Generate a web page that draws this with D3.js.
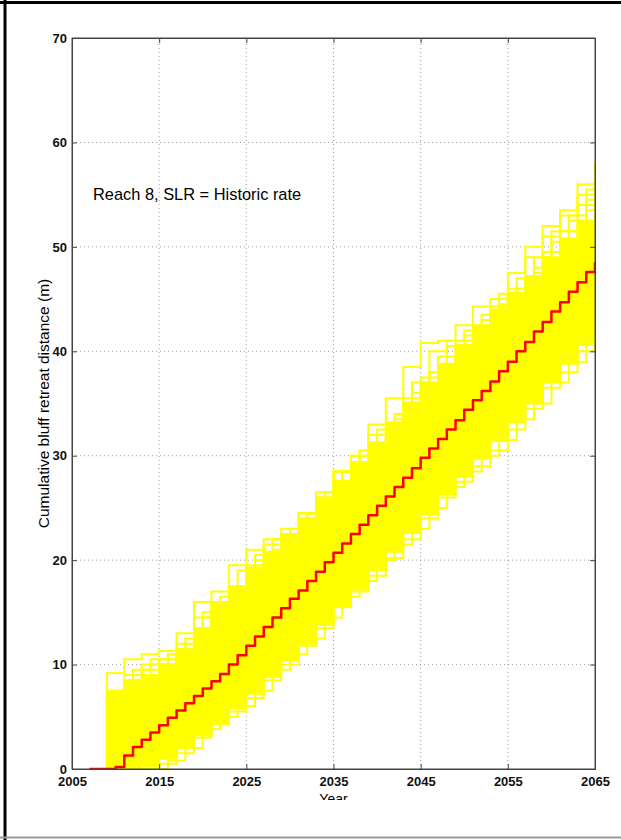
<!DOCTYPE html>
<html>
<head>
<meta charset="utf-8">
<script src="https://cdn.jsdelivr.net/npm/d3@7"></script>
<style>
  body { margin: 0; background: #fff; }
  text { font-family: "Liberation Sans", Arial, sans-serif; }
</style>
</head>
<body>
<div id="chart"></div>
<script>
// yearly mean retreat (red line)
const years = [2007, 2008, 2009, 2010, 2011, 2012, 2013, 2014, 2015, 2016, 2017, 2018, 2019, 2020,
  2021, 2022, 2023, 2024, 2025, 2026, 2027, 2028, 2029, 2030, 2031, 2032, 2033, 2034, 2035, 2036,
  2037, 2038, 2039, 2040, 2041, 2042, 2043, 2044, 2045, 2046, 2047, 2048, 2049, 2050, 2051, 2052,
  2053, 2054, 2055, 2056, 2057, 2058, 2059, 2060, 2061, 2062, 2063, 2064, 2065];
const meanRetreat = [0, 0, 0, 0.2, 1.3, 2.1, 2.8, 3.5, 4.2, 4.9, 5.6, 6.3, 7.0, 7.7,
  8.4, 9.1, 10.0, 10.9, 11.8, 12.7, 13.6, 14.5, 15.4, 16.3, 17.1, 18.0, 18.9, 19.8, 20.7, 21.6,
  22.5, 23.4, 24.3, 25.2, 26.1, 27.0, 27.9, 28.8, 29.8, 30.7, 31.6, 32.5, 33.4, 34.4, 35.3, 36.2,
  37.1, 38.1, 39.0, 40.0, 40.9, 41.9, 42.8, 43.8, 44.7, 45.7, 46.6, 47.6, 48.5];

// Monte Carlo realizations (yellow), read every 2 years on two offset grids
const stepYears = [2007, 2009, 2011, 2013, 2015, 2017, 2019, 2021, 2023, 2025, 2027, 2029, 2031, 2033, 2035,
  2037, 2039, 2041, 2043, 2045, 2047, 2049, 2051, 2053, 2055, 2057, 2059, 2061, 2063, 2065];
const stepYearsB = [2008, 2010, 2012, 2014, 2016, 2018, 2020, 2022, 2024, 2026, 2028, 2030, 2032, 2034, 2036,
  2038, 2040, 2042, 2044, 2046, 2048, 2050, 2052, 2054, 2056, 2058, 2060, 2062, 2064, 2066];
const coreUpper = [0, 7.5, 8.5, 9.0, 10.0, 11.5, 13.5, 16.0, 17.5, 19.3, 20.8, 22.4, 24.0, 25.8, 27.6,
  29.4, 31.3, 33.2, 35.1, 37.0, 38.8, 40.6, 42.4, 44.0, 45.6, 47.2, 49.0, 50.8, 52.5, 54.0];
const coreLower = [0, 0, 0, 0.3, 1.0, 2.0, 3.2, 4.5, 5.8, 7.2, 8.8, 10.4, 12.0, 13.8, 15.6,
  17.2, 19.0, 20.8, 22.6, 24.4, 26.3, 28.0, 29.7, 31.4, 33.2, 35.0, 37.0, 38.8, 40.6, 42.3];
const runs = [
  [0, 9.2, 10.5, 11.0, 11.3, 13.0, 16.0, 17.0, 19.5, 21.0, 22.0, 23.0, 24.5, 26.5, 28.5,
   28.0, 29.5, 31.0, 33.0, 35.0, 37.5, 39.5, 41.0, 43.0, 45.0, 46.5, 48.5, 50.5, 52.5, 54.5],
  [0, 0, 8.5, 9.5, 10.5, 11.5, 13.5, 15.5, 17.0, 19.0, 21.5, 22.5, 24.5, 26.0, 28.5,
   30.0, 33.0, 35.5, 38.5, 40.8, 41.0, 42.5, 44.3, 45.0, 47.5, 49.0, 51.0, 53.0, 55.0, 56.5],
  [0, 7.5, 9.0, 10.0, 10.5, 12.0, 14.5, 16.0, 17.5, 19.5, 21.5, 22.5, 24.5, 26.0, 28.5,
   30.0, 32.0, 33.0, 35.5, 37.5, 39.5, 41.0, 42.5, 44.3, 46.0, 50.0, 52.0, 53.5, 56.0, 58.0],
  [0, 0, 6.0, 8.0, 9.5, 11.0, 12.5, 14.5, 16.0, 18.0, 20.0, 21.0, 22.5, 24.0, 26.0,
   27.5, 29.5, 32.0, 34.0, 36.0, 38.0, 39.5, 41.5, 43.5, 45.0, 47.0, 49.5, 51.5, 54.0, 55.5],
  [0, 5.0, 8.0, 9.0, 10.0, 11.0, 13.0, 14.0, 15.5, 17.5, 19.5, 21.0, 22.0, 23.5, 25.5,
   27.5, 28.5, 30.5, 32.5, 34.5, 36.5, 38.5, 40.5, 42.0, 44.0, 46.0, 47.5, 49.5, 51.0, 53.0],
  [0, 0, 0, 0, 0.5, 1.5, 3.0, 4.3, 5.5, 6.8, 8.5, 10.0, 11.8, 13.5, 15.5,
   17.0, 18.5, 20.2, 22.0, 24.0, 26.0, 27.5, 29.0, 30.5, 32.5, 34.5, 36.5, 38.0, 40.0, 41.5],
  [0, 0, 0, 0.3, 1.0, 2.5, 3.5, 5.0, 6.5, 7.5, 9.0, 11.0, 12.5, 14.5, 16.0,
   18.0, 19.5, 21.0, 23.5, 25.0, 27.0, 29.0, 30.5, 32.0, 34.0, 35.5, 37.5, 39.5, 41.0, 43.0]
];
const runsB = [
  [0, 0, 9.0, 10.0, 11.0, 12.0, 14.5, 16.5, 19.0, 20.5, 22.0, 23.0, 24.5, 26.5, 28.5,
   30.5, 32.5, 33.5, 36.0, 38.0, 40.5, 41.5, 43.0, 44.5, 46.0, 48.0, 50.5, 52.5, 54.5, 56.0],
  [0, 0, 7.0, 8.5, 10.0, 11.5, 13.0, 15.5, 17.0, 18.5, 20.0, 21.5, 23.0, 24.5, 26.0,
   28.0, 30.0, 32.5, 34.5, 36.5, 38.5, 40.0, 42.0, 44.0, 45.5, 47.5, 49.5, 51.5, 53.5, 55.0],
  [0, 2.0, 9.5, 10.5, 11.0, 12.5, 15.0, 16.0, 17.5, 20.0, 21.0, 22.5, 24.0, 26.5, 28.5,
   30.5, 32.0, 34.0, 37.0, 40.0, 41.0, 42.0, 43.5, 45.5, 47.0, 49.0, 51.5, 53.0, 55.5, 57.0],
  [0, 0, 0, 0, 0.8, 2.0, 3.8, 5.0, 6.0, 7.5, 9.5, 11.0, 12.5, 14.5, 16.5,
   18.0, 20.0, 21.5, 23.0, 25.0, 27.0, 28.5, 30.0, 31.5, 33.5, 35.0, 37.0, 39.0, 41.0, 42.5]
];

const xTicks = [2005, 2015, 2025, 2035, 2045, 2055, 2065];
const yTicks = [0, 10, 20, 30, 40, 50, 60, 70];

const width = 621, height = 840;
const margin = {top: 38, right: 26, bottom: 71, left: 72};

const svg = d3.select("#chart").append("svg")
  .attr("width", width)
  .attr("height", height);

// page frame
svg.append("line").attr("x1", 0).attr("x2", width).attr("y1", 2.5).attr("y2", 2.5)
  .attr("stroke", "#000").attr("stroke-width", 3);
svg.append("line").attr("x1", 5).attr("x2", 5).attr("y1", 0).attr("y2", height)
  .attr("stroke", "#000").attr("stroke-width", 3);

let x = d3.scaleLinear().domain([2005, 2065]).range([margin.left, width - margin.right]);
let y = d3.scaleLinear().domain([0, 70]).range([height - margin.bottom, margin.top]);

svg.append("clipPath").attr("id", "plotclip")
  .append("rect")
  .attr("x", x(2005)).attr("y", y(70))
  .attr("width", x(2065) - x(2005)).attr("height", y(0) - y(70));

// dotted grid
svg.append("g").selectAll("line")
  .data(xTicks.slice(1, -1)).enter().append("line")
  .attr("x1", d => x(d)).attr("x2", d => x(d))
  .attr("y1", y(0)).attr("y2", y(70))
  .attr("stroke", "#888").attr("stroke-width", 0.8).attr("stroke-dasharray", "1,3");
svg.append("g").selectAll("line")
  .data(yTicks.slice(1, -1)).enter().append("line")
  .attr("x1", x(2005)).attr("x2", x(2065))
  .attr("y1", d => y(d)).attr("y2", d => y(d))
  .attr("stroke", "#888").attr("stroke-width", 0.8).attr("stroke-dasharray", "1,3");

let plot = svg.append("g").attr("clip-path", "url(#plotclip)");

let band = stepYears.map((yr, i) => ({year: yr, lo: coreLower[i], hi: coreUpper[i]}));
plot.append("path")
  .datum(band.filter(d => d.year >= 2009))
  .attr("d", d3.area().curve(d3.curveStepAfter)
    .x(d => x(d.year)).y0(d => y(d.lo)).y1(d => y(d.hi)))
  .attr("fill", "#ffff00")
  .attr("stroke", "#ffff00").attr("stroke-width", 2);

let stepLine = d3.line().curve(d3.curveStepAfter)
  .x(d => x(d[0])).y(d => y(d[1]));

function drawRun(yrs, r) {
  plot.append("path")
    .datum(yrs.map((yr, i) => [yr, r[i]]))
    .attr("d", stepLine)
    .attr("fill", "none")
    .attr("stroke", "#ffff00")
    .attr("stroke-width", 2);
}
runs.forEach(r => drawRun(stepYears, r));
runsB.forEach(r => drawRun(stepYearsB, r));

plot.append("path")
  .datum(years.map((yr, i) => [yr, meanRetreat[i]]))
  .attr("d", stepLine)
  .attr("fill", "none")
  .attr("stroke", "#ff0000")
  .attr("stroke-width", 2.5)
  .attr("stroke-linejoin", "round");

// axes, ticks pointing inwards
let fmt = d3.format("d");
svg.append("g").attr("transform", `translate(0,${y(0)})`)
  .call(d3.axisBottom(x).tickValues(xTicks).tickFormat(fmt).tickSizeInner(-5).tickSizeOuter(0).tickPadding(8));
svg.append("g").attr("transform", `translate(0,${y(70)})`)
  .call(d3.axisTop(x).tickValues(xTicks).tickFormat("").tickSizeInner(-5).tickSizeOuter(0));
svg.append("g").attr("transform", `translate(${x(2005)},0)`)
  .call(d3.axisLeft(y).tickValues(yTicks).tickFormat(fmt).tickSizeInner(-5).tickSizeOuter(0).tickPadding(5));
svg.append("g").attr("transform", `translate(${x(2065)},0)`)
  .call(d3.axisRight(y).tickValues(yTicks).tickFormat("").tickSizeInner(-5).tickSizeOuter(0));

svg.selectAll(".domain").attr("stroke", "#444");
svg.selectAll(".tick line").attr("stroke", "#444");
svg.selectAll(".tick text")
  .attr("fill", "#111")
  .style("font-size", "13px")
  .style("font-weight", "bold")
  .style("font-family", "'Liberation Sans', Arial, sans-serif");

// box
svg.append("rect")
  .attr("x", x(2005)).attr("y", y(70))
  .attr("width", x(2065) - x(2005)).attr("height", y(0) - y(70))
  .attr("fill", "none").attr("stroke", "#444").attr("stroke-width", 1);

// labels
svg.append("text")
  .attr("x", (x(2005) + x(2065)) / 2)
  .attr("y", 804)
  .attr("text-anchor", "middle")
  .style("font-size", "14px")
  .text("Year");

svg.append("text")
  .attr("transform", `translate(49, ${(y(0) + y(70)) / 2}) rotate(-90)`)
  .attr("text-anchor", "middle")
  .style("font-size", "15.5px")
  .text("Cumulative bluff retreat distance (m)");

svg.append("text")
  .attr("x", 93)
  .attr("y", 200)
  .style("font-size", "16.4px")
  .text("Reach 8, SLR = Historic rate");

// the picture is cut just below the axis title
svg.append("rect")
  .attr("x", 7).attr("y", 800)
  .attr("width", width - 7).attr("height", 36)
  .attr("fill", "#fff");
svg.append("line").attr("x1", 0).attr("x2", width).attr("y1", 837.5).attr("y2", 837.5)
  .attr("stroke", "#999").attr("stroke-width", 2);
</script>
</body>
</html>
